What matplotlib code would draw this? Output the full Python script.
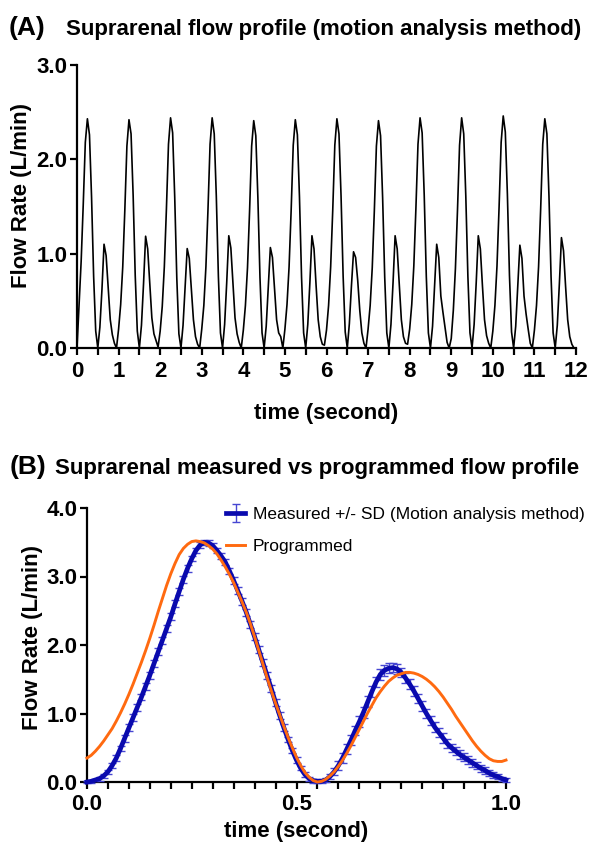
import numpy as np
import matplotlib
matplotlib.use('Agg')
import matplotlib.pyplot as plt
from matplotlib.ticker import MultipleLocator

# ---------------- Panel A data (sampled every 0.05 s, one row per cycle) ----------------
flow_a = [
    0.00, 0.45, 0.92, 1.52, 2.18, 2.43, 2.26, 1.60, 0.76, 0.18, 0.00, 0.22, 0.62, 1.10, 0.98, 0.64, 0.30, 0.14, 0.05, 0.00,
    0.20, 0.46, 0.86, 1.46, 2.14, 2.42, 2.27, 1.62, 0.77, 0.18, 0.00, 0.24, 0.68, 1.185, 1.05, 0.68, 0.32, 0.15, 0.08, 0.01,
    0.18, 0.44, 0.86, 1.47, 2.16, 2.44, 2.28, 1.60, 0.74, 0.15, 0.00, 0.24, 0.64, 1.054, 0.95, 0.62, 0.30, 0.12, 0.04, 0.00,
    0.20, 0.45, 0.86, 1.47, 2.16, 2.44, 2.27, 1.61, 0.76, 0.16, 0.00, 0.25, 0.69, 1.19, 1.06, 0.68, 0.32, 0.15, 0.06, 0.00,
    0.19, 0.45, 0.85, 1.45, 2.14, 2.41, 2.25, 1.59, 0.75, 0.16, 0.00, 0.23, 0.65, 1.065, 0.96, 0.63, 0.30, 0.16, 0.12, 0.00,
    0.20, 0.46, 0.86, 1.46, 2.15, 2.42, 2.26, 1.60, 0.75, 0.16, 0.00, 0.25, 0.69, 1.19, 1.05, 0.66, 0.30, 0.12, 0.04, 0.03,
    0.19, 0.45, 0.86, 1.46, 2.15, 2.43, 2.27, 1.61, 0.76, 0.17, 0.00, 0.26, 0.66, 1.02, 0.96, 0.72, 0.40, 0.16, 0.05, 0.00,
    0.20, 0.45, 0.85, 1.45, 2.14, 2.41, 2.25, 1.59, 0.75, 0.16, 0.00, 0.25, 0.69, 1.19, 1.05, 0.67, 0.30, 0.12, 0.05, 0.04,
    0.20, 0.46, 0.87, 1.48, 2.16, 2.44, 2.28, 1.62, 0.76, 0.16, 0.00, 0.23, 0.66, 1.10, 0.96, 0.55, 0.38, 0.22, 0.06, 0.00,
    0.10, 0.40, 0.84, 1.46, 2.15, 2.44, 2.27, 1.61, 0.76, 0.16, 0.00, 0.25, 0.69, 1.19, 1.05, 0.66, 0.30, 0.13, 0.05, 0.00,
    0.18, 0.45, 0.87, 1.49, 2.18, 2.46, 2.29, 1.63, 0.77, 0.17, 0.00, 0.23, 0.65, 1.09, 0.95, 0.55, 0.36, 0.20, 0.05, 0.00,
    0.19, 0.45, 0.86, 1.47, 2.16, 2.43, 2.27, 1.61, 0.76, 0.16, 0.00, 0.24, 0.68, 1.17, 1.03, 0.65, 0.30, 0.12, 0.04, 0.00,
]
time_a = np.arange(len(flow_a)) * 0.05
xticks_a = list(range(0, 13))
yticks_a = [0.0, 1.0, 2.0, 3.0]

# ---------------- Panel B data (sampled every 0.01 s) ----------------
measured_mean = [
    0.00, 0.01, 0.03, 0.05, 0.09, 0.15, 0.24, 0.35, 0.49, 0.64,
    0.79, 0.94, 1.09, 1.24, 1.40, 1.56, 1.73, 1.90, 2.07, 2.24,
    2.41, 2.60, 2.78, 2.96, 3.12, 3.26, 3.38, 3.46, 3.50, 3.49,
    3.45, 3.38, 3.30, 3.21, 3.08, 2.94, 2.79, 2.64, 2.48, 2.30,
    2.12, 1.93, 1.74, 1.55, 1.36, 1.16, 0.97, 0.79, 0.62, 0.46,
    0.32, 0.20, 0.11, 0.05, 0.02, 0.01, 0.01, 0.03, 0.08, 0.15,
    0.24, 0.35, 0.48, 0.61, 0.75, 0.88, 1.02, 1.17, 1.32, 1.46,
    1.57, 1.63, 1.66, 1.67, 1.65, 1.60, 1.52, 1.43, 1.33, 1.22,
    1.11, 1.00, 0.90, 0.80, 0.72, 0.64, 0.56, 0.50, 0.45, 0.40,
    0.36, 0.32, 0.28, 0.24, 0.20, 0.17, 0.13, 0.10, 0.08, 0.05,
    0.03,
]
measured_sd = [
    0.02, 0.02, 0.02, 0.03, 0.03, 0.03, 0.04, 0.04, 0.04, 0.05,
    0.05, 0.05, 0.05, 0.05, 0.05, 0.05, 0.05, 0.05, 0.05, 0.05,
    0.05, 0.05, 0.05, 0.05, 0.05, 0.04, 0.04, 0.04, 0.04, 0.04,
    0.04, 0.04, 0.04, 0.04, 0.04, 0.05, 0.05, 0.05, 0.05, 0.05,
    0.05, 0.05, 0.05, 0.05, 0.05, 0.05, 0.05, 0.05, 0.04, 0.04,
    0.04, 0.03, 0.03, 0.03, 0.03, 0.03, 0.03, 0.03, 0.04, 0.05,
    0.06, 0.07, 0.07, 0.07, 0.07, 0.08, 0.08, 0.08, 0.08, 0.08,
    0.08, 0.08, 0.07, 0.07, 0.07, 0.07, 0.07, 0.07, 0.07, 0.07,
    0.07, 0.07, 0.07, 0.07, 0.07, 0.07, 0.07, 0.06, 0.06, 0.06,
    0.06, 0.06, 0.06, 0.05, 0.05, 0.05, 0.04, 0.04, 0.04, 0.03,
    0.03,
]
programmed = [
    0.35, 0.39, 0.45, 0.52, 0.60, 0.69, 0.78, 0.89, 1.01, 1.14,
    1.28, 1.43, 1.59, 1.75, 1.92, 2.10, 2.29, 2.49, 2.68, 2.87,
    3.04, 3.19, 3.32, 3.41, 3.47, 3.51, 3.52, 3.51, 3.49, 3.45,
    3.40, 3.33, 3.24, 3.14, 3.03, 2.91, 2.77, 2.63, 2.48, 2.31,
    2.12, 1.92, 1.72, 1.52, 1.33, 1.15, 0.98, 0.81, 0.65, 0.50,
    0.36, 0.24, 0.14, 0.07, 0.02, 0.00, 0.01, 0.04, 0.09, 0.15,
    0.23, 0.32, 0.42, 0.53, 0.65, 0.77, 0.89, 1.01, 1.12, 1.23,
    1.32, 1.40, 1.47, 1.52, 1.56, 1.58, 1.60, 1.60, 1.59, 1.57,
    1.54, 1.50, 1.45, 1.39, 1.32, 1.24, 1.15, 1.06, 0.96, 0.87,
    0.78, 0.69, 0.60, 0.52, 0.45, 0.39, 0.34, 0.31, 0.30, 0.30,
    0.32,
]
time_b = np.arange(len(measured_mean)) * 0.01
xticks_b = [0.0, 0.5, 1.0]
yticks_b = [0.0, 1.0, 2.0, 3.0, 4.0]
legend_labels = ['Measured +/- SD (Motion analysis method)', 'Programmed']

# ---------------- styling ----------------
plt.rcParams['font.family'] = ['Liberation Sans', 'DejaVu Sans']
BLUE = '#0a0aae'
EBLUE = '#4646d2'
ORANGE = '#ff6a10'
TICK_FS = 16
LABEL_FS = 16
TITLE_FS = 16
LETTER_FS = 19

fig = plt.figure(figsize=(5.95, 8.44), dpi=100)
W, H = 595.0, 844.0


def style_axes(ax, xpad):
    for s in ['top', 'right']:
        ax.spines[s].set_visible(False)
    for s in ['left', 'bottom']:
        ax.spines[s].set_linewidth(1.6)
    ax.tick_params(which='both', direction='out', length=5, width=1.6,
                   labelsize=TICK_FS)
    ax.tick_params(axis='y', pad=2)
    ax.tick_params(axis='x', which='both', pad=xpad)
    for lab in ax.get_xticklabels() + ax.get_yticklabels():
        lab.set_fontweight('bold')


def place_labels(ax, x0, x1, y0, y1, ylab_x, ylab_y, xlab_y):
    # coordinates given in figure pixels; converted to axes fractions
    ax.yaxis.set_label_coords((ylab_x - x0) / (x1 - x0), (y0 - ylab_y) / (y0 - y1))
    ax.yaxis.label.set_va('center')
    ax.xaxis.set_label_coords(0.5, (y0 - xlab_y) / (y0 - y1))
    ax.xaxis.label.set_va('center')


# ---------------- Panel A ----------------
axA = fig.add_axes([77 / W, 1 - 348 / H, 499 / W, 283 / H])
axA.plot(time_a, flow_a, color='black', lw=1.2, zorder=3, clip_on=False)
axA.set_xlim(0, 12)
axA.set_ylim(0, 3)
axA.set_xticks(xticks_a)
axA.set_xticklabels([str(v) for v in xticks_a])
axA.xaxis.set_minor_locator(MultipleLocator(0.5))
axA.set_yticks(yticks_a)
axA.set_yticklabels([f'{v:.1f}' for v in yticks_a])
style_axes(axA, xpad=4.5)
axA.set_ylabel('Flow Rate (L/min)', fontsize=LABEL_FS, fontweight='bold')
axA.set_xlabel('time (second)', fontsize=LABEL_FS, fontweight='bold')
place_labels(axA, 77, 576, 348, 65, 21, 195, 414)

fig.text(9 / W, 1 - 35 / H, '(A)', fontsize=LETTER_FS, fontweight='bold', va='baseline', ha='left')
fig.text(66 / W, 1 - 35 / H, 'Suprarenal flow profile (motion analysis method)',
         fontsize=TITLE_FS, fontweight='bold', va='baseline', ha='left')

# ---------------- Panel B ----------------
axB = fig.add_axes([87 / W, 1 - 782 / H, 419 / W, 274 / H])
eb = axB.errorbar(time_b, measured_mean, yerr=measured_sd, color=BLUE, lw=3.4,
                  ecolor=EBLUE, elinewidth=1.0, capsize=2.6, capthick=1.0,
                  zorder=3, clip_on=False, label=legend_labels[0])
for group in (eb.lines[1], eb.lines[2]):
    for art in group:
        art.set_clip_on(False)
prog_line, = axB.plot(time_b, programmed, color=ORANGE, lw=2.1, zorder=4,
                      clip_on=False, label=legend_labels[1])
axB.set_xlim(0, 1)
axB.set_ylim(0, 4)
axB.set_xticks(xticks_b)
axB.set_xticklabels([f'{v:.1f}' for v in xticks_b])
axB.xaxis.set_minor_locator(MultipleLocator(0.05))
axB.set_yticks(yticks_b)
axB.set_yticklabels([f'{v:.1f}' for v in yticks_b])
style_axes(axB, xpad=3.5)
axB.set_ylabel('Flow Rate (L/min)', fontsize=LABEL_FS, fontweight='bold')
axB.set_xlabel('time (second)', fontsize=LABEL_FS, fontweight='bold')
place_labels(axB, 87, 506, 782, 508, 33, 637, 831)

leg = axB.legend(handles=[eb, prog_line], labels=legend_labels, loc='upper left',
                 bbox_to_anchor=((226 - 87) / 419, (782 - 507) / 274),
                 frameon=False, fontsize=12.5, handlelength=1.1, handletextpad=0.45,
                 labelspacing=0.95, borderpad=0, borderaxespad=0)

fig.text(10 / W, 1 - 474 / H, '(B)', fontsize=LETTER_FS, fontweight='bold', va='baseline', ha='left')
fig.text(55 / W, 1 - 474 / H, 'Suprarenal measured vs programmed flow profile',
         fontsize=TITLE_FS, fontweight='bold', va='baseline', ha='left')

fig.savefig('out.png', dpi=100)
